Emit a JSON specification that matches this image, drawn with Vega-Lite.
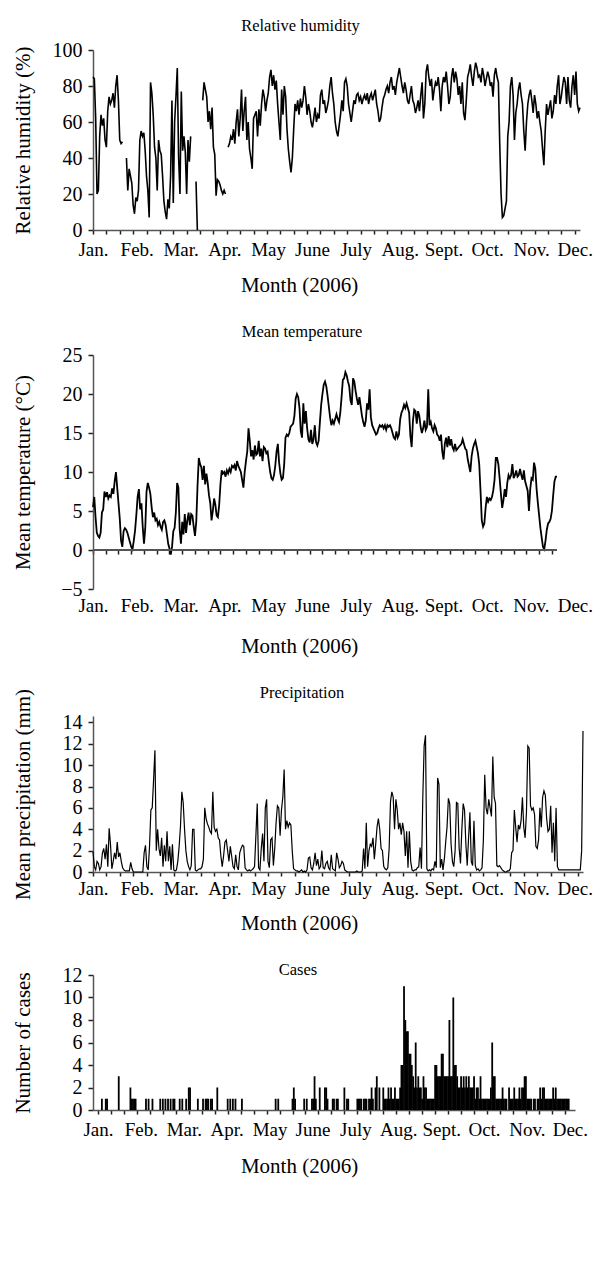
{
"$schema": "https://vega.github.io/schema/vega-lite/v6.json",
"padding": {"left": 12, "top": 17, "right": 2, "bottom": 5},
"background": "white",
"spacing": 28,
"config": {
  "font": "Liberation Serif",
  "view": {"stroke": null},
  "title": {"font": "Liberation Serif", "fontSize": 16.5, "fontWeight": "normal", "color": "black", "offset": 6},
  "axis": {"labelFont": "Liberation Serif", "titleFont": "Liberation Serif", "labelFontSize": 19, "titleFontSize": 21, "titleFontWeight": "normal", "labelColor": "black", "titleColor": "black", "domainColor": "#555", "domainWidth": 1.5, "tickColor": "#222", "tickWidth": 1.5, "grid": false, "tickCount": 100},
  "axisX": {"tickSize": 4, "labelPadding": 6, "titlePadding": 16, "labelFlush": false, "labelOverlap": false, "labelBound": false, "titleX": 206},
  "axisY": {"tickSize": 5, "labelPadding": 6, "labelFontSize": 20, "titlePadding": 20, "minExtent": 40, "maxExtent": 40, "labelOverlap": false, "format": "d"}
},
"datasets": {"days": [
{"d":1,"h":85,"t":5.5,"p":1.9,"c":0},{"d":2,"h":84,"t":6.8,"p":0.5,"c":0},{"d":3,"h":62,"t":4.2,"p":0.2,"c":0},{"d":4,"h":20,"t":2.2,"p":1.0,"c":1},{"d":5,"h":22,"t":1.8,"p":0.8,"c":0},{"d":6,"h":52,"t":1.6,"p":0.2,"c":0},{"d":7,"h":64,"t":2.2,"p":0.5,"c":1},{"d":8,"h":58,"t":4.8,"p":1.8,"c":1},{"d":9,"h":62,"t":5.2,"p":2.2,"c":0},{"d":10,"h":50,"t":7.5,"p":1.2,"c":0},
{"d":11,"h":46,"t":6.8,"p":2.6,"c":0},{"d":12,"h":66,"t":7.4,"p":0.5,"c":0},{"d":13,"h":74,"t":6.6,"p":4.1,"c":0},{"d":14,"h":70,"t":7.0,"p":2.6,"c":0},{"d":15,"h":72,"t":6.8,"p":0.3,"c":0},{"d":16,"h":76,"t":7.9,"p":1.0,"c":0},{"d":17,"h":68,"t":7.2,"p":1.8,"c":3},{"d":18,"h":80,"t":8.8,"p":1.2,"c":0},{"d":19,"h":86,"t":10.0,"p":2.8,"c":0},{"d":20,"h":72,"t":8.0,"p":1.4,"c":0},
{"d":21,"h":50,"t":6.0,"p":1.8,"c":0},{"d":22,"h":48,"t":4.0,"p":1.0,"c":0},{"d":23,"h":49,"t":1.2,"p":0.4,"c":0},{"d":24,"h":null,"t":0.4,"p":0.2,"c":0},{"d":25,"h":null,"t":2.4,"p":0.1,"c":0},{"d":26,"h":40,"t":2.8,"p":0.1,"c":2},{"d":27,"h":22,"t":2.6,"p":0.1,"c":1},{"d":28,"h":34,"t":2.2,"p":0.1,"c":1},{"d":29,"h":30,"t":1.6,"p":0.9,"c":1},{"d":30,"h":26,"t":1.0,"p":0.3,"c":1},
{"d":31,"h":14,"t":0.4,"p":0,"c":0},{"d":32,"h":9,"t":0.1,"p":0,"c":0},{"d":33,"h":18,"t":1.2,"p":0,"c":0},{"d":34,"h":16,"t":2.5,"p":0,"c":0},{"d":35,"h":22,"t":4.5,"p":0,"c":0},{"d":36,"h":50,"t":6.8,"p":0,"c":0},{"d":37,"h":55,"t":7.8,"p":0,"c":0},{"d":38,"h":52,"t":5.2,"p":0,"c":1},{"d":39,"h":54,"t":6.0,"p":1.8,"c":0},{"d":40,"h":44,"t":3.0,"p":2.5,"c":1},
{"d":41,"h":30,"t":0.8,"p":0.5,"c":0},{"d":42,"h":22,"t":2.8,"p":0.2,"c":0},{"d":43,"h":7,"t":7.5,"p":2.4,"c":1},{"d":44,"h":82,"t":8.6,"p":5.8,"c":0},{"d":45,"h":76,"t":8.0,"p":6.0,"c":0},{"d":46,"h":64,"t":7.2,"p":8.6,"c":0},{"d":47,"h":46,"t":5.5,"p":11.4,"c":0},{"d":48,"h":40,"t":4.2,"p":2.0,"c":0},{"d":49,"h":22,"t":4.8,"p":4.0,"c":1},{"d":50,"h":50,"t":3.8,"p":2.2,"c":0},
{"d":51,"h":44,"t":4.0,"p":1.5,"c":1},{"d":52,"h":42,"t":3.2,"p":3.2,"c":0},{"d":53,"h":30,"t":3.6,"p":0.5,"c":1},{"d":54,"h":16,"t":3.0,"p":2.5,"c":0},{"d":55,"h":10,"t":2.6,"p":1.0,"c":1},{"d":56,"h":6,"t":3.6,"p":3.8,"c":0},{"d":57,"h":17,"t":3.8,"p":1.0,"c":1},{"d":58,"h":12,"t":3.2,"p":2.4,"c":0},{"d":59,"h":30,"t":2.0,"p":0.2,"c":1},{"d":60,"h":72,"t":0.8,"p":2.6,"c":1},
{"d":61,"h":15,"t":0.2,"p":0.2,"c":0},{"d":62,"h":60,"t":-0.6,"p":0.1,"c":0},{"d":63,"h":74,"t":0.4,"p":0.2,"c":0},{"d":64,"h":90,"t":2.4,"p":1.0,"c":1},{"d":65,"h":40,"t":2.8,"p":2.4,"c":0},{"d":66,"h":20,"t":4.8,"p":4.3,"c":1},{"d":67,"h":77,"t":8.6,"p":7.5,"c":0},{"d":68,"h":44,"t":8.0,"p":6.5,"c":0},{"d":69,"h":52,"t":2.6,"p":4.0,"c":1},{"d":70,"h":43,"t":0.8,"p":2.0,"c":0},
{"d":71,"h":20,"t":3.6,"p":1.0,"c":2},{"d":72,"h":50,"t":2.0,"p":0.5,"c":2},{"d":73,"h":38,"t":4.6,"p":0.2,"c":0},{"d":74,"h":52,"t":2.2,"p":0.6,"c":0},{"d":75,"h":null,"t":3.8,"p":4.0,"c":0},{"d":76,"h":null,"t":4.8,"p":4.0,"c":0},{"d":77,"h":null,"t":3.2,"p":0.2,"c":0},{"d":78,"h":27,"t":4.6,"p":0.1,"c":1},{"d":79,"h":0,"t":4.4,"p":0.2,"c":0},{"d":80,"h":null,"t":3.0,"p":0.3,"c":0},
{"d":81,"h":null,"t":1.8,"p":0.3,"c":0},{"d":82,"h":null,"t":3.6,"p":0.5,"c":1},{"d":83,"h":72,"t":8.2,"p":1.2,"c":0},{"d":84,"h":82,"t":11.8,"p":6.0,"c":1},{"d":85,"h":78,"t":11.0,"p":5.0,"c":1},{"d":86,"h":74,"t":10.6,"p":4.5,"c":1},{"d":87,"h":60,"t":9.0,"p":4.2,"c":0},{"d":88,"h":66,"t":10.8,"p":3.8,"c":1},{"d":89,"h":56,"t":8.4,"p":3.6,"c":1},{"d":90,"h":68,"t":9.8,"p":7.5,"c":0},
{"d":91,"h":46,"t":8.6,"p":4.2,"c":0},{"d":92,"h":42,"t":7.0,"p":3.8,"c":0},{"d":93,"h":19,"t":6.0,"p":4.0,"c":2},{"d":94,"h":28,"t":3.8,"p":3.2,"c":0},{"d":95,"h":27,"t":5.0,"p":3.0,"c":0},{"d":96,"h":25,"t":6.6,"p":1.5,"c":0},{"d":97,"h":22,"t":5.8,"p":0.5,"c":0},{"d":98,"h":20,"t":4.4,"p":1.5,"c":0},{"d":99,"h":22,"t":4.2,"p":2.8,"c":0},{"d":100,"h":20,"t":5.8,"p":3.0,"c":0},
{"d":101,"h":null,"t":8.5,"p":2.0,"c":1},{"d":102,"h":46,"t":10.2,"p":1.0,"c":0},{"d":103,"h":48,"t":9.8,"p":2.4,"c":1},{"d":104,"h":52,"t":10.0,"p":1.5,"c":0},{"d":105,"h":50,"t":9.4,"p":0.5,"c":1},{"d":106,"h":56,"t":10.2,"p":0.3,"c":0},{"d":107,"h":48,"t":9.8,"p":1.6,"c":1},{"d":108,"h":60,"t":10.4,"p":0.5,"c":0},{"d":109,"h":67,"t":10.0,"p":0.2,"c":0},{"d":110,"h":52,"t":10.8,"p":1.8,"c":0},
{"d":111,"h":62,"t":10.6,"p":2.2,"c":0},{"d":112,"h":78,"t":10.9,"p":2.5,"c":1},{"d":113,"h":55,"t":10.2,"p":2.4,"c":0},{"d":114,"h":66,"t":11.4,"p":0.4,"c":0},{"d":115,"h":74,"t":10.8,"p":0.2,"c":0},{"d":116,"h":50,"t":10.4,"p":0.1,"c":0},{"d":117,"h":60,"t":10.0,"p":0.2,"c":0},{"d":118,"h":45,"t":9.0,"p":0.1,"c":0},{"d":119,"h":40,"t":8.0,"p":0.2,"c":0},{"d":120,"h":34,"t":10.0,"p":0.3,"c":0},
{"d":121,"h":62,"t":11.4,"p":0.5,"c":0},{"d":122,"h":64,"t":12.6,"p":3.4,"c":0},{"d":123,"h":66,"t":15.6,"p":6.4,"c":0},{"d":124,"h":52,"t":14.0,"p":0.4,"c":0},{"d":125,"h":67,"t":12.0,"p":0.2,"c":0},{"d":126,"h":58,"t":12.8,"p":2.2,"c":0},{"d":127,"h":70,"t":11.6,"p":3.6,"c":0},{"d":128,"h":78,"t":13.4,"p":1.0,"c":0},{"d":129,"h":74,"t":12.2,"p":6.0,"c":0},{"d":130,"h":66,"t":12.4,"p":6.8,"c":0},
{"d":131,"h":72,"t":14.0,"p":1.0,"c":0},{"d":132,"h":76,"t":12.0,"p":0.4,"c":0},{"d":133,"h":85,"t":13.0,"p":3.0,"c":0},{"d":134,"h":89,"t":11.4,"p":3.2,"c":0},{"d":135,"h":80,"t":13.2,"p":0.6,"c":0},{"d":136,"h":86,"t":13.0,"p":2.2,"c":0},{"d":137,"h":78,"t":12.4,"p":4.6,"c":0},{"d":138,"h":83,"t":12.6,"p":6.2,"c":1},{"d":139,"h":70,"t":11.2,"p":6.0,"c":0},{"d":140,"h":60,"t":10.0,"p":3.4,"c":1},
{"d":141,"h":50,"t":9.2,"p":5.8,"c":0},{"d":142,"h":78,"t":9.0,"p":7.0,"c":0},{"d":143,"h":64,"t":9.6,"p":9.6,"c":0},{"d":144,"h":80,"t":10.8,"p":4.0,"c":0},{"d":145,"h":74,"t":12.6,"p":4.8,"c":0},{"d":146,"h":56,"t":13.6,"p":4.2,"c":0},{"d":147,"h":45,"t":11.2,"p":4.6,"c":0},{"d":148,"h":38,"t":9.8,"p":4.4,"c":0},{"d":149,"h":32,"t":9.0,"p":2.0,"c":0},{"d":150,"h":40,"t":9.2,"p":0.3,"c":0},
{"d":151,"h":56,"t":11.0,"p":0.2,"c":1},{"d":152,"h":70,"t":14.4,"p":0.1,"c":2},{"d":153,"h":66,"t":14.8,"p":0.1,"c":1},{"d":154,"h":72,"t":14.6,"p":0,"c":0},{"d":155,"h":64,"t":15.0,"p":0.1,"c":0},{"d":156,"h":73,"t":15.8,"p":0.2,"c":0},{"d":157,"h":68,"t":16.0,"p":0,"c":0},{"d":158,"h":72,"t":16.2,"p":0.1,"c":0},{"d":159,"h":80,"t":17.2,"p":0,"c":0},{"d":160,"h":74,"t":19.4,"p":0.2,"c":1},
{"d":161,"h":64,"t":20.0,"p":1.3,"c":0},{"d":162,"h":70,"t":19.6,"p":1.4,"c":1},{"d":163,"h":66,"t":18.2,"p":0.4,"c":0},{"d":164,"h":60,"t":15.2,"p":0.2,"c":0},{"d":165,"h":57,"t":14.4,"p":0.8,"c":0},{"d":166,"h":62,"t":18.8,"p":1.8,"c":1},{"d":167,"h":68,"t":16.2,"p":0.6,"c":1},{"d":168,"h":60,"t":17.8,"p":1.2,"c":3},{"d":169,"h":64,"t":15.6,"p":0.3,"c":1},{"d":170,"h":62,"t":14.2,"p":0.5,"c":0},
{"d":171,"h":75,"t":13.8,"p":2.0,"c":0},{"d":172,"h":78,"t":15.4,"p":0.4,"c":2},{"d":173,"h":70,"t":13.6,"p":0.3,"c":0},{"d":174,"h":72,"t":14.2,"p":0.8,"c":0},{"d":175,"h":65,"t":16.0,"p":1.0,"c":0},{"d":176,"h":68,"t":13.8,"p":0.4,"c":2},{"d":177,"h":72,"t":13.4,"p":0.2,"c":2},{"d":178,"h":80,"t":14.0,"p":1.6,"c":1},{"d":179,"h":85,"t":16.4,"p":0.3,"c":0},{"d":180,"h":76,"t":18.6,"p":0.2,"c":0},
{"d":181,"h":70,"t":20.0,"p":0.1,"c":0},{"d":182,"h":60,"t":21.2,"p":1.8,"c":1},{"d":183,"h":55,"t":21.6,"p":1.2,"c":1},{"d":184,"h":52,"t":21.0,"p":0.4,"c":0},{"d":185,"h":58,"t":19.8,"p":0.6,"c":1},{"d":186,"h":64,"t":18.4,"p":1.0,"c":1},{"d":187,"h":72,"t":17.0,"p":0.8,"c":0},{"d":188,"h":66,"t":16.0,"p":0.2,"c":0},{"d":189,"h":82,"t":16.6,"p":0.1,"c":0},{"d":190,"h":84,"t":16.2,"p":0,"c":0},
{"d":191,"h":80,"t":16.8,"p":0,"c":2},{"d":192,"h":70,"t":17.4,"p":0,"c":0},{"d":193,"h":65,"t":16.8,"p":0,"c":1},{"d":194,"h":60,"t":16.4,"p":0,"c":1},{"d":195,"h":66,"t":17.6,"p":0,"c":0},{"d":196,"h":72,"t":19.6,"p":0,"c":0},{"d":197,"h":70,"t":21.8,"p":0.1,"c":0},{"d":198,"h":75,"t":22.0,"p":0,"c":0},{"d":199,"h":76,"t":22.8,"p":0,"c":0},{"d":200,"h":72,"t":22.4,"p":0,"c":0},
{"d":201,"h":74,"t":21.6,"p":0.1,"c":1},{"d":202,"h":70,"t":21.0,"p":2.2,"c":1},{"d":203,"h":73,"t":19.2,"p":0.3,"c":1},{"d":204,"h":75,"t":18.6,"p":4.6,"c":1},{"d":205,"h":72,"t":22.0,"p":0.5,"c":0},{"d":206,"h":76,"t":21.6,"p":2.0,"c":1},{"d":207,"h":70,"t":20.4,"p":2.6,"c":1},{"d":208,"h":74,"t":19.4,"p":2.4,"c":1},{"d":209,"h":76,"t":18.6,"p":3.2,"c":0},{"d":210,"h":72,"t":19.6,"p":1.2,"c":1},
{"d":211,"h":75,"t":18.4,"p":2.6,"c":1},{"d":212,"h":78,"t":17.2,"p":4.2,"c":2},{"d":213,"h":70,"t":16.4,"p":5.0,"c":1},{"d":214,"h":66,"t":15.8,"p":4.0,"c":0},{"d":215,"h":60,"t":16.6,"p":2.2,"c":2},{"d":216,"h":62,"t":18.8,"p":2.0,"c":3},{"d":217,"h":68,"t":18.0,"p":0.5,"c":0},{"d":218,"h":73,"t":20.6,"p":0.3,"c":2},{"d":219,"h":75,"t":17.0,"p":0.2,"c":0},{"d":220,"h":78,"t":16.0,"p":0.4,"c":0},
{"d":221,"h":80,"t":15.6,"p":2.2,"c":2},{"d":222,"h":76,"t":15.2,"p":6.6,"c":1},{"d":223,"h":82,"t":14.8,"p":7.5,"c":1},{"d":224,"h":85,"t":15.0,"p":7.0,"c":1},{"d":225,"h":78,"t":15.6,"p":4.0,"c":2},{"d":226,"h":80,"t":16.0,"p":6.8,"c":1},{"d":227,"h":75,"t":15.8,"p":5.8,"c":2},{"d":228,"h":82,"t":16.0,"p":4.0,"c":1},{"d":229,"h":86,"t":15.6,"p":4.6,"c":1},{"d":230,"h":90,"t":16.0,"p":3.5,"c":2},
{"d":231,"h":85,"t":15.4,"p":4.6,"c":1},{"d":232,"h":80,"t":16.0,"p":3.8,"c":1},{"d":233,"h":76,"t":15.8,"p":1.5,"c":1},{"d":234,"h":82,"t":16.0,"p":3.8,"c":2},{"d":235,"h":78,"t":15.6,"p":0.4,"c":4},{"d":236,"h":72,"t":15.0,"p":3.8,"c":4},{"d":237,"h":70,"t":14.4,"p":1.0,"c":11},{"d":238,"h":75,"t":14.2,"p":0.2,"c":8},{"d":239,"h":80,"t":15.2,"p":0.1,"c":7},{"d":240,"h":72,"t":14.4,"p":0.2,"c":7},
{"d":241,"h":70,"t":14.8,"p":0.2,"c":5},{"d":242,"h":65,"t":16.8,"p":0.4,"c":5},{"d":243,"h":68,"t":17.6,"p":0.5,"c":4},{"d":244,"h":72,"t":18.0,"p":2.3,"c":3},{"d":245,"h":66,"t":18.6,"p":0.3,"c":2},{"d":246,"h":75,"t":18.2,"p":7.0,"c":6},{"d":247,"h":82,"t":18.8,"p":11.8,"c":2},{"d":248,"h":62,"t":18.2,"p":12.8,"c":3},{"d":249,"h":70,"t":17.6,"p":0.3,"c":2},{"d":250,"h":88,"t":14.6,"p":0.1,"c":2},
{"d":251,"h":92,"t":13.2,"p":0.2,"c":1},{"d":252,"h":85,"t":16.6,"p":0.1,"c":3},{"d":253,"h":80,"t":18.0,"p":0.3,"c":2},{"d":254,"h":84,"t":17.8,"p":0.2,"c":2},{"d":255,"h":72,"t":16.2,"p":1.0,"c":1},{"d":256,"h":78,"t":17.8,"p":0.4,"c":1},{"d":257,"h":82,"t":17.2,"p":8.8,"c":1},{"d":258,"h":80,"t":15.8,"p":8.2,"c":1},{"d":259,"h":85,"t":15.0,"p":0.4,"c":1},{"d":260,"h":78,"t":15.6,"p":1.2,"c":1},
{"d":261,"h":66,"t":16.6,"p":0.2,"c":4},{"d":262,"h":80,"t":15.4,"p":1.2,"c":4},{"d":263,"h":85,"t":15.8,"p":2.8,"c":3},{"d":264,"h":82,"t":20.6,"p":4.2,"c":3},{"d":265,"h":88,"t":16.0,"p":6.9,"c":3},{"d":266,"h":80,"t":16.4,"p":6.4,"c":5},{"d":267,"h":70,"t":15.6,"p":2.6,"c":5},{"d":268,"h":74,"t":15.2,"p":1.0,"c":3},{"d":269,"h":85,"t":16.0,"p":0.5,"c":3},{"d":270,"h":90,"t":15.6,"p":2.0,"c":3},
{"d":271,"h":82,"t":14.8,"p":6.5,"c":3},{"d":272,"h":88,"t":14.6,"p":6.4,"c":8},{"d":273,"h":84,"t":14.0,"p":2.2,"c":3},{"d":274,"h":75,"t":14.8,"p":0.8,"c":3},{"d":275,"h":80,"t":12.6,"p":4.0,"c":10},{"d":276,"h":70,"t":11.6,"p":6.4,"c":4},{"d":277,"h":82,"t":13.6,"p":5.8,"c":4},{"d":278,"h":65,"t":14.4,"p":2.6,"c":3},{"d":279,"h":61,"t":13.2,"p":0.6,"c":2},{"d":280,"h":72,"t":14.6,"p":3.2,"c":2},
{"d":281,"h":85,"t":13.4,"p":5.6,"c":3},{"d":282,"h":88,"t":14.2,"p":1.0,"c":2},{"d":283,"h":92,"t":13.2,"p":0.6,"c":3},{"d":284,"h":85,"t":12.8,"p":4.8,"c":2},{"d":285,"h":80,"t":13.6,"p":0.6,"c":3},{"d":286,"h":88,"t":12.8,"p":0.2,"c":2},{"d":287,"h":93,"t":13.0,"p":0.3,"c":3},{"d":288,"h":90,"t":13.2,"p":0.1,"c":2},{"d":289,"h":85,"t":13.4,"p":0.2,"c":2},{"d":290,"h":86,"t":13.6,"p":0.4,"c":2},
{"d":291,"h":82,"t":14.2,"p":3.0,"c":3},{"d":292,"h":90,"t":13.6,"p":9.1,"c":1},{"d":293,"h":86,"t":13.0,"p":6.0,"c":2},{"d":294,"h":80,"t":12.8,"p":5.4,"c":2},{"d":295,"h":84,"t":11.6,"p":6.8,"c":1},{"d":296,"h":88,"t":10.8,"p":6.0,"c":3},{"d":297,"h":85,"t":10.0,"p":5.2,"c":1},{"d":298,"h":80,"t":12.0,"p":10.8,"c":1},{"d":299,"h":82,"t":13.0,"p":7.0,"c":1},{"d":300,"h":74,"t":13.6,"p":6.4,"c":1},
{"d":301,"h":86,"t":14.0,"p":0.6,"c":1},{"d":302,"h":90,"t":13.2,"p":0.5,"c":1},{"d":303,"h":85,"t":12.4,"p":0.6,"c":1},{"d":304,"h":82,"t":11.0,"p":0.4,"c":2},{"d":305,"h":48,"t":7.6,"p":0.2,"c":6},{"d":306,"h":20,"t":3.8,"p":0.1,"c":3},{"d":307,"h":7,"t":3.0,"p":0,"c":3},{"d":308,"h":8,"t":3.4,"p":0,"c":1},{"d":309,"h":12,"t":5.4,"p":0.1,"c":1},{"d":310,"h":16,"t":6.8,"p":0.1,"c":1},
{"d":311,"h":52,"t":6.2,"p":0.3,"c":1},{"d":312,"h":60,"t":6.6,"p":1.8,"c":1},{"d":313,"h":80,"t":6.4,"p":2.0,"c":2},{"d":314,"h":85,"t":6.8,"p":5.8,"c":1},{"d":315,"h":75,"t":7.6,"p":4.2,"c":1},{"d":316,"h":50,"t":9.0,"p":2.8,"c":1},{"d":317,"h":65,"t":11.8,"p":4.4,"c":0},{"d":318,"h":70,"t":11.8,"p":4.0,"c":2},{"d":319,"h":78,"t":11.0,"p":4.8,"c":1},{"d":320,"h":82,"t":9.2,"p":7.0,"c":1},
{"d":321,"h":75,"t":7.2,"p":4.2,"c":1},{"d":322,"h":70,"t":5.4,"p":3.2,"c":2},{"d":323,"h":55,"t":6.4,"p":5.6,"c":1},{"d":324,"h":44,"t":7.8,"p":11.8,"c":1},{"d":325,"h":60,"t":6.8,"p":11.6,"c":1},{"d":326,"h":70,"t":8.6,"p":6.2,"c":2},{"d":327,"h":75,"t":9.6,"p":5.8,"c":1},{"d":328,"h":78,"t":9.2,"p":6.0,"c":2},{"d":329,"h":72,"t":9.6,"p":5.4,"c":2},{"d":330,"h":65,"t":11.0,"p":2.4,"c":3},
{"d":331,"h":75,"t":9.2,"p":2.2,"c":3},{"d":332,"h":70,"t":9.6,"p":3.0,"c":1},{"d":333,"h":62,"t":10.2,"p":6.0,"c":1},{"d":334,"h":66,"t":9.4,"p":4.2,"c":1},{"d":335,"h":60,"t":9.6,"p":7.0,"c":1},{"d":336,"h":55,"t":10.4,"p":7.6,"c":0},{"d":337,"h":45,"t":9.6,"p":7.2,"c":1},{"d":338,"h":36,"t":9.0,"p":5.0,"c":1},{"d":339,"h":55,"t":10.2,"p":3.8,"c":0},{"d":340,"h":70,"t":8.8,"p":4.0,"c":1},
{"d":341,"h":64,"t":8.2,"p":6.2,"c":1},{"d":342,"h":68,"t":7.6,"p":1.8,"c":2},{"d":343,"h":72,"t":5.0,"p":4.6,"c":1},{"d":344,"h":62,"t":7.8,"p":1.0,"c":2},{"d":345,"h":66,"t":9.2,"p":6.0,"c":2},{"d":346,"h":75,"t":9.0,"p":0.5,"c":1},{"d":347,"h":70,"t":11.2,"p":0.2,"c":1},{"d":348,"h":80,"t":10.4,"p":0.2,"c":1},{"d":349,"h":86,"t":7.8,"p":0.2,"c":1},{"d":350,"h":70,"t":6.0,"p":0.2,"c":1},
{"d":351,"h":74,"t":4.4,"p":0.2,"c":1},{"d":352,"h":80,"t":2.8,"p":0.2,"c":2},{"d":353,"h":85,"t":1.6,"p":0.2,"c":1},{"d":354,"h":82,"t":0.4,"p":0.2,"c":2},{"d":355,"h":70,"t":0.1,"p":0.2,"c":1},{"d":356,"h":85,"t":1.2,"p":0.2,"c":1},{"d":357,"h":72,"t":2.6,"p":0.2,"c":1},{"d":358,"h":68,"t":3.4,"p":0.2,"c":1},{"d":359,"h":80,"t":3.6,"p":0.2,"c":1},{"d":360,"h":86,"t":4.0,"p":0.2,"c":1},
{"d":361,"h":75,"t":5.0,"p":0.2,"c":1},{"d":362,"h":88,"t":7.0,"p":0.2,"c":1},{"d":363,"h":70,"t":8.8,"p":0.2,"c":1},{"d":364,"h":66,"t":9.4,"p":2.0,"c":1},{"d":365,"h":68,"t":9.4,"p":13.2,"c":0}
]},
"vconcat": [
{
 "title": {"text": "Relative humidity", "dx": -36},
 "width": 487, "height": 180,
 "data": {"name": "days"},
 "mark": {"type": "line", "color": "black", "strokeWidth": 1.6, "invalid": "break-paths-show-domains"},
 "encoding": {
  "x": {"field": "d", "type": "quantitative", "scale": {"domain": [1, 365], "nice": false, "zero": false}, "title": "Month (2006)",
   "axis": {"titlePadding": 15, "values": [1,11,21,31,41,51,61,71,81,91,101,111,121,131,141,151,161,171,181,191,201,211,221,231,241,251,261,271,281,291,301,311,321,331,341,351,361,33.7,66.5,99.2,131.9,164.7,197.4,230.2,262.9,295.6,328.4,361.1],
    "labelExpr": "indexof([1,33.7,66.5,99.2,131.9,164.7,197.4,230.2,262.9,295.6,328.4,361.1], datum.value) >= 0 ? ['Jan.','Feb.','Mar.','Apr.','May','June','July','Aug.','Sept.','Oct.','Nov.','Dec.'][indexof([1,33.7,66.5,99.2,131.9,164.7,197.4,230.2,262.9,295.6,328.4,361.1], datum.value)] : ''",
    "tickOpacity": {"condition": {"test": "datum.value % 10 == 1", "value": 1}, "value": 0}}},
  "y": {"field": "h", "type": "quantitative", "scale": {"domain": [0, 100], "nice": false}, "title": "Relative humidity (%)", "axis": {"values": [0,20,40,60,80,100]}}
 }
},
{
 "title": {"text": "Mean temperature", "dx": -36, "offset": 5},
 "width": 490, "height": 234,
 "data": {"name": "days"},
 "layer": [
  {
   "mark": {"type": "line", "color": "black", "strokeWidth": 1.8},
   "encoding": {
    "x": {"field": "d", "type": "quantitative", "scale": {"domain": [1, 385.4], "nice": false, "zero": false}, "title": "Month (2006)",
     "axis": {"domain": false, "offset": -39, "labelPadding": 42, "titlePadding": 20,
      "values": [1,11,21,31,41,51,61,71,81,91,101,111,121,131,141,151,161,171,181,191,201,211,221,231,241,251,261,271,281,291,301,311,321,331,341,351,361,35.4,69.7,104.1,138.5,172.8,207.2,241.6,275.9,310.3,344.6,379],
      "labelExpr": "indexof([1,35.4,69.7,104.1,138.5,172.8,207.2,241.6,275.9,310.3,344.6,379], datum.value) >= 0 ? ['Jan.','Feb.','Mar.','Apr.','May','June','July','Aug.','Sept.','Oct.','Nov.','Dec.'][indexof([1,35.4,69.7,104.1,138.5,172.8,207.2,241.6,275.9,310.3,344.6,379], datum.value)] : ''",
      "tickOpacity": {"condition": {"test": "datum.value % 10 == 1", "value": 1}, "value": 0}}},
    "y": {"field": "t", "type": "quantitative", "scale": {"domain": [-5, 25], "nice": false, "zero": false}, "title": "Mean temperature (°C)", "axis": {"values": [-5,0,5,10,15,20,25]}}
   }
  },
  {
   "mark": {"type": "rule", "color": "#555", "strokeWidth": 1.5},
   "encoding": {"x": {"datum": 1, "type": "quantitative"}, "x2": {"datum": 365}, "y": {"datum": 0, "type": "quantitative"}}
  }
 ]
},
{
 "title": {"text": "Precipitation", "dx": -36, "offset": -13},
 "width": 490, "height": 156,
 "data": {"name": "days"},
 "mark": {"type": "line", "color": "black", "strokeWidth": 1.2},
 "encoding": {
  "x": {"field": "d", "type": "quantitative", "scale": {"domain": [1, 365], "nice": false, "zero": false}, "title": "Month (2006)",
   "axis": {"labelPadding": 3, "titlePadding": 14, "values": [1,11,21,31,41,51,61,71,81,91,101,111,121,131,141,151,161,171,181,191,201,211,221,231,241,251,261,271,281,291,301,311,321,331,341,351,361,33.5,66.1,98.6,131.2,163.7,196.2,228.8,261.3,293.9,326.4,358.9],
    "labelExpr": "indexof([1,33.5,66.1,98.6,131.2,163.7,196.2,228.8,261.3,293.9,326.4,358.9], datum.value) >= 0 ? ['Jan.','Feb.','Mar.','Apr.','May','June','July','Aug.','Sept.','Oct.','Nov.','Dec.'][indexof([1,33.5,66.1,98.6,131.2,163.7,196.2,228.8,261.3,293.9,326.4,358.9], datum.value)] : ''",
    "tickOpacity": {"condition": {"test": "datum.value % 10 == 1", "value": 1}, "value": 0}}},
  "y": {"field": "p", "type": "quantitative", "scale": {"domain": [0, 14.6], "nice": false}, "title": "Mean precipitation (mm)", "axis": {"values": [0,2,4,6,8,10,12,14]}}
 }
},
{
 "title": {"text": "Cases", "dx": -36, "offset": -13},
 "width": 482, "height": 135,
 "data": {"name": "days"},
 "mark": {"type": "bar", "color": "black", "size": 1.8},
 "encoding": {
  "x": {"field": "d", "type": "quantitative", "scale": {"domain": [1, 365], "nice": false, "zero": false}, "title": "Month (2006)",
   "axis": {"values": [1,11,21,31,41,51,61,71,81,91,101,111,121,131,141,151,161,171,181,191,201,211,221,231,241,251,261,271,281,291,301,311,321,331,341,351,361,34.1,67.2,100.2,133.3,166.4,199.5,232.6,265.7,298.7,331.8,364.9],
    "labelExpr": "indexof([1,34.1,67.2,100.2,133.3,166.4,199.5,232.6,265.7,298.7,331.8,364.9], datum.value) >= 0 ? ['Jan.','Feb.','Mar.','Apr.','May','June','July','Aug.','Sept.','Oct.','Nov.','Dec.'][indexof([1,34.1,67.2,100.2,133.3,166.4,199.5,232.6,265.7,298.7,331.8,364.9], datum.value)] : ''",
    "tickOpacity": {"condition": {"test": "datum.value % 10 == 1", "value": 1}, "value": 0}}},
  "y": {"field": "c", "type": "quantitative", "scale": {"domain": [0, 12], "nice": false}, "title": "Number of cases", "axis": {"values": [0,2,4,6,8,10,12]}}
 }
}
]
}
